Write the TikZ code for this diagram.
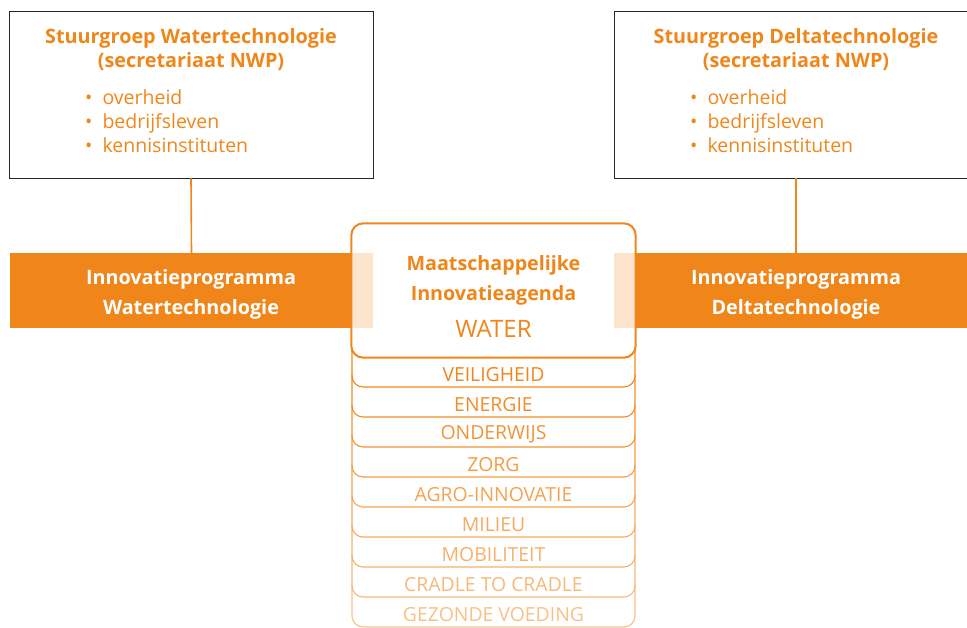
\documentclass[tikz,border=0pt]{standalone}
\usepackage{fontspec}
\setmainfont{Open Sans}
\usetikzlibrary{positioning}
\definecolor{nwporange}{RGB}{240,134,26}
\definecolor{nwppale}{RGB}{253,228,204}
\tikzset{
  stuurbox/.style={draw=black!85,line width=0.9pt,minimum width=364pt,minimum height=167pt,inner sep=0pt},
  stuurtitle/.style={text=nwporange,align=center,font=\bfseries\fontsize{19.8}{24}\selectfont},
  stuurlist/.style={text=nwporange,align=left,anchor=west,inner sep=0pt,font=\fontsize{19.5}{24}\selectfont},
  band/.style={fill=nwporange,minimum height=75pt,inner sep=0pt},
  bandtext/.style={text=white,align=center,font=\bfseries\fontsize{19.8}{30}\selectfont},
  link/.style={draw=nwporange,line width=1.6pt},
  agendatext/.style={text=nwporange,font=\bfseries\fontsize{19.7}{30}\selectfont},
  thema/.style={font=\fontsize{19.4}{20}\selectfont,inner sep=0pt}
}
\begin{document}
\begin{tikzpicture}[x=1pt,y=-1pt]
  \useasboundingbox (0,0) rectangle (967,627);

  % stuurgroepen
  \node[stuurbox] (wbox) at (191,94.5) {};
  \node[stuurbox] (dbox) at (796,94.5) {};
  \node[stuurtitle] (wtitle) at (191,50) {Stuurgroep Watertechnologie\\(secretariaat NWP)};
  \node[stuurtitle] (dtitle) at (796,50) {Stuurgroep Deltatechnologie\\(secretariaat NWP)};
  \node[stuurlist] (wlist) at (85,121) {•\hspace{10pt}overheid\\•\hspace{10pt}bedrijfsleven\\•\hspace{10pt}kennisinstituten};
  \node[stuurlist] (dlist) at (690,121) {•\hspace{10pt}overheid\\•\hspace{10pt}bedrijfsleven\\•\hspace{10pt}kennisinstituten};

  % innovatieprogramma's
  \node[band,minimum width=363pt] (wband) at (191.5,290.5) {};
  \node[band,minimum width=364pt] (dband) at (796,290.5) {};
  \node[bandtext] (wbandtext) at (191,294.5) {Innovatieprogramma\\Watertechnologie};
  \node[bandtext] (dbandtext) at (796,294.5) {Innovatieprogramma\\Deltatechnologie};
  \draw[link] (wbox.south) -- (wband.north);
  \draw[link] (dbox.south) -- (dband.north);

  % thema's onder de agenda
  \foreach \k/\thema in {9/GEZONDE VOEDING,8/CRADLE TO CRADLE,7/MOBILITEIT,6/MILIEU,
      5/AGRO-INNOVATIE,4/ZORG,3/ONDERWIJS,2/ENERGIE,1/VEILIGHEID}
  {
    \pgfmathsetmacro{\tint}{100-6*(\k-1)}
    \pgfmathsetmacro{\ybot}{357+30*\k}
    \draw[nwporange!\tint,line width=1.1pt,rounded corners=11pt]
      (352,\ybot-42) -- (352,\ybot) -- (635,\ybot) -- (635,\ybot-42);
    \node[thema,text=nwporange!\tint] (thema\k) at (493.5,\ybot-12.5) {\thema};
  }

  % maatschappelijke innovatieagenda
  \node[fill=white,rounded corners=12pt,minimum width=284pt,minimum height=134pt] (agenda) at (493.5,290.5) {};
  \fill[nwppale] (agenda.west |- wband.north) rectangle (373,328);
  \fill[nwppale] (614,253) rectangle (agenda.east |- wband.south);
  \draw[nwporange,line width=2pt,rounded corners=12pt] (agenda.north west) rectangle (agenda.south east);
  \node[agendatext,align=center] (agendatitle) at (493.5,280) {Maatschappelijke\\Innovatieagenda};
  \node[text=nwporange,font=\fontsize{24}{24}\selectfont] (water) at (493.5,328.5) {WATER};
\end{tikzpicture}
\end{document}
